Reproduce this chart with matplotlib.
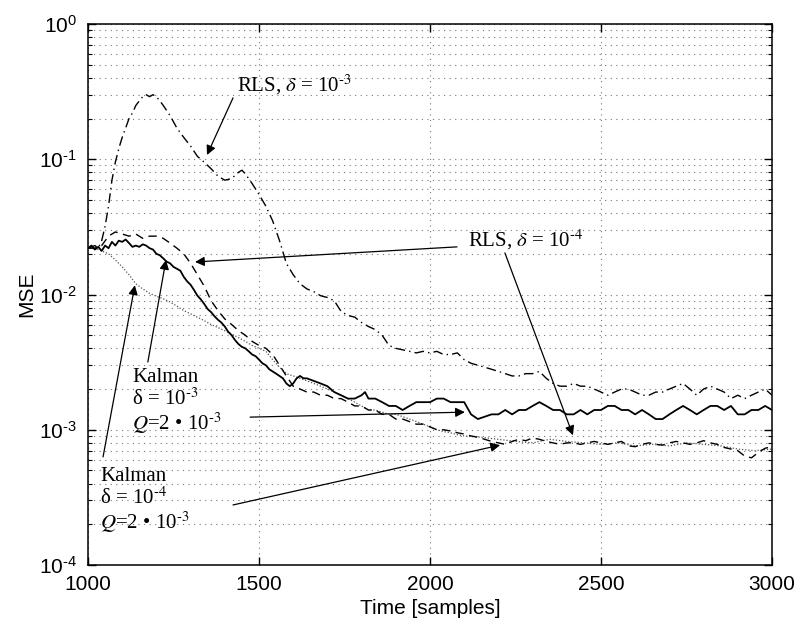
import matplotlib.pyplot as plt
import numpy as np

plt.rcParams['font.family'] = ['Liberation Sans', 'DejaVu Sans']
plt.rcParams['mathtext.fontset'] = 'custom'
plt.rcParams['mathtext.rm'] = 'Liberation Sans'
plt.rcParams['mathtext.it'] = 'Liberation Sans:italic'

# Kalman, delta = 1e-3, Q = 2e-3 (solid)
kal3_t = [1000, 1010, 1020, 1030, 1040, 1050, 1060, 1070, 1080, 1090, 1100, 1110, 1120, 1130,
          1140, 1150, 1160, 1170, 1180, 1190, 1200, 1210, 1220, 1230, 1240, 1250, 1260, 1270,
          1280, 1290, 1300, 1310, 1320, 1330, 1340, 1350, 1360, 1370, 1380, 1390, 1400, 1410,
          1420, 1430, 1440, 1450, 1460, 1470, 1480, 1490, 1500, 1510, 1520, 1530, 1540, 1550,
          1560, 1570, 1580, 1590, 1600, 1610, 1620, 1630, 1640, 1660, 1680, 1700, 1720, 1740,
          1760, 1780, 1800, 1810, 1820, 1840, 1860, 1880, 1900, 1920, 1940, 1960, 1980, 2000,
          2020, 2040, 2060, 2080, 2100, 2120, 2140, 2160, 2180, 2200, 2220, 2240, 2260, 2280,
          2300, 2320, 2340, 2360, 2380, 2400, 2420, 2440, 2460, 2480, 2500, 2520, 2540, 2560,
          2580, 2600, 2620, 2640, 2660, 2680, 2700, 2720, 2740, 2760, 2780, 2800, 2820, 2840,
          2860, 2880, 2900, 2920, 2940, 2960, 2980, 3000]
kal3_v = [0.022, 0.023, 0.0215, 0.0225, 0.021, 0.023, 0.022, 0.0245, 0.023, 0.025, 0.0245, 0.0255,
          0.024, 0.0225, 0.023, 0.0225, 0.0235, 0.023, 0.022, 0.0215, 0.02, 0.0195, 0.0185, 0.0175,
          0.017, 0.016, 0.0155, 0.015, 0.0135, 0.0125, 0.0118, 0.0108, 0.0098, 0.0092, 0.0085,
          0.0078, 0.0074, 0.0069, 0.0065, 0.0062, 0.0058, 0.0053, 0.005, 0.0046, 0.0043, 0.0041,
          0.004, 0.0038, 0.0036, 0.0035, 0.0033, 0.0031, 0.003, 0.0028, 0.0027, 0.0026, 0.0025,
          0.0024, 0.0022, 0.0021, 0.0022, 0.0024, 0.0025, 0.0024, 0.0024, 0.0023, 0.0022, 0.0021,
          0.0019, 0.0018, 0.0017, 0.0017, 0.0018, 0.0019, 0.0017, 0.0017, 0.0016, 0.0015, 0.0015,
          0.0014, 0.0015, 0.0016, 0.0016, 0.0016, 0.0017, 0.0017, 0.0016, 0.0016, 0.0016, 0.0013,
          0.0012, 0.00125, 0.0013, 0.0013, 0.0014, 0.0013, 0.0014, 0.0014, 0.0015, 0.0016, 0.0015,
          0.0014, 0.0014, 0.0013, 0.0013, 0.0014, 0.0013, 0.0014, 0.0014, 0.0015, 0.0015, 0.0014,
          0.0014, 0.0013, 0.0014, 0.0013, 0.0012, 0.0012, 0.0013, 0.0014, 0.0015, 0.0014, 0.0013,
          0.0014, 0.0015, 0.0015, 0.0014, 0.0015, 0.0013, 0.0013, 0.0014, 0.0014, 0.0015, 0.0014]

# RLS, delta = 1e-3 (dash-dot)
rls3_t = [1000, 1020, 1030, 1040, 1050, 1060, 1070, 1080, 1090, 1100, 1110, 1120, 1130, 1140,
          1150, 1160, 1170, 1180, 1190, 1200, 1210, 1220, 1240, 1260, 1280, 1300, 1320, 1340,
          1360, 1380, 1400, 1420, 1440, 1450, 1460, 1480, 1500, 1520, 1540, 1560, 1580, 1600,
          1620, 1640, 1660, 1680, 1700, 1720, 1740, 1760, 1780, 1800, 1820, 1840, 1860, 1880,
          1900, 1920, 1940, 1960, 1980, 2000, 2020, 2040, 2060, 2080, 2100, 2120, 2140, 2160,
          2180, 2200, 2220, 2240, 2260, 2280, 2300, 2320, 2340, 2360, 2380, 2400, 2420, 2440,
          2460, 2480, 2500, 2520, 2540, 2560, 2580, 2600, 2620, 2640, 2660, 2680, 2700, 2720,
          2740, 2760, 2780, 2800, 2820, 2840, 2860, 2880, 2900, 2920, 2940, 2960, 2980, 3000]
rls3_v = [0.022, 0.023, 0.022, 0.025, 0.032, 0.045, 0.07, 0.095, 0.12, 0.145, 0.17, 0.2, 0.22,
          0.25, 0.27, 0.29, 0.3, 0.29, 0.3, 0.29, 0.27, 0.25, 0.21, 0.17, 0.145, 0.125, 0.105,
          0.095, 0.085, 0.075, 0.07, 0.072, 0.08, 0.083, 0.078, 0.066, 0.055, 0.045, 0.035, 0.025,
          0.017, 0.014, 0.012, 0.011, 0.0105, 0.0098, 0.0095, 0.009, 0.0075, 0.007, 0.0068,
          0.0062, 0.0058, 0.0055, 0.005, 0.0042, 0.004, 0.0039, 0.0038, 0.0037, 0.0038, 0.0037,
          0.0038, 0.0036, 0.0036, 0.0037, 0.0033, 0.0031, 0.003, 0.0029, 0.0028, 0.0027, 0.0026,
          0.0025, 0.0025, 0.0026, 0.0026, 0.0027, 0.0024, 0.0022, 0.0021, 0.0021, 0.0022, 0.0021,
          0.0021, 0.002, 0.0019, 0.0018, 0.0019, 0.002, 0.002, 0.0019, 0.0018, 0.0018, 0.0019,
          0.0019, 0.002, 0.0021, 0.0022, 0.002, 0.0018, 0.002, 0.0021, 0.002, 0.0019, 0.0017,
          0.0018, 0.0017, 0.0018, 0.0019, 0.002, 0.0018]

# RLS, delta = 1e-4 (dashed)
rls4_t = [1000, 1020, 1040, 1060, 1080, 1100, 1120, 1140, 1160, 1180, 1200, 1220, 1240, 1260,
          1280, 1300, 1320, 1340, 1360, 1380, 1400, 1420, 1440, 1460, 1480, 1500, 1520, 1540,
          1560, 1580, 1600, 1620, 1640, 1660, 1680, 1700, 1720, 1740, 1760, 1780, 1800, 1820,
          1840, 1860, 1880, 1900, 1920, 1940, 1960, 1980, 2000, 2020, 2040, 2060, 2080, 2100,
          2120, 2140, 2160, 2180, 2200, 2220, 2240, 2260, 2280, 2300, 2320, 2340, 2360, 2380,
          2400, 2420, 2440, 2460, 2480, 2500, 2520, 2540, 2560, 2580, 2600, 2620, 2640, 2660,
          2680, 2700, 2720, 2740, 2760, 2780, 2800, 2820, 2840, 2860, 2880, 2900, 2920, 2940,
          2960, 2980, 3000]
rls4_v = [0.022, 0.022, 0.023, 0.027, 0.029, 0.028, 0.027, 0.028, 0.026, 0.027, 0.027, 0.026,
          0.024, 0.022, 0.02, 0.017, 0.014, 0.0115, 0.009, 0.0076, 0.0066, 0.006, 0.0054, 0.005,
          0.0045, 0.0042, 0.004, 0.0036, 0.003, 0.0025, 0.0021, 0.002, 0.0019, 0.0019, 0.0018,
          0.0018, 0.0017, 0.0017, 0.0016, 0.0015, 0.0015, 0.0014, 0.0014, 0.0013, 0.0013, 0.0012,
          0.0012, 0.00115, 0.0011, 0.0011, 0.00105, 0.001, 0.001, 0.00098, 0.00095, 0.00093,
          0.0009, 0.00088, 0.00085, 0.00082, 0.0008, 0.00078, 0.00082, 0.00085, 0.00083, 0.00087,
          0.00085, 0.00082, 0.0008, 0.00078, 0.0008, 0.0008, 0.00078, 0.0008, 0.00082, 0.0008,
          0.00078, 0.0008, 0.00082, 0.00076, 0.00075, 0.00078, 0.0008, 0.00078, 0.00077, 0.0008,
          0.00082, 0.0008, 0.00078, 0.0008, 0.00083, 0.0008, 0.00078, 0.00074, 0.00072, 0.0007,
          0.00064, 0.00062, 0.00068, 0.00073, 0.00075]

# Kalman, delta = 1e-4, Q = 2e-3 (dotted)
kal4_t = [1000, 1020, 1040, 1060, 1080, 1100, 1120, 1140, 1160, 1180, 1200, 1220, 1240, 1260,
          1280, 1300, 1320, 1340, 1360, 1380, 1400, 1420, 1440, 1460, 1480, 1500, 1520, 1540,
          1560, 1580, 1600, 1620, 1640, 1660, 1680, 1700, 1720, 1740, 1760, 1780, 1800, 1820,
          1840, 1860, 1880, 1900, 1920, 1940, 1960, 1980, 2000, 2020, 2040, 2060, 2080, 2100,
          2150, 2200, 2250, 2300, 2350, 2400, 2450, 2500, 2550, 2600, 2650, 2700, 2750, 2800,
          2850, 2900, 2950, 3000]
kal4_v = [0.022, 0.022, 0.021, 0.02, 0.018, 0.016, 0.014, 0.012, 0.011, 0.0102, 0.0097, 0.0093,
          0.0088, 0.0082, 0.0076, 0.0072, 0.0068, 0.0064, 0.006, 0.0057, 0.0054, 0.0051, 0.0048,
          0.0045, 0.0042, 0.004, 0.0038, 0.0033, 0.0029, 0.0026, 0.0025, 0.0024, 0.0023, 0.0022,
          0.0021, 0.002, 0.0019, 0.0018, 0.0017, 0.0016, 0.0015, 0.0014, 0.0014, 0.00135, 0.0013,
          0.0013, 0.00125, 0.0012, 0.00115, 0.0011, 0.00105, 0.001, 0.00097, 0.00095, 0.00092,
          0.0009, 0.00088, 0.00085, 0.00082, 0.0008, 0.00085, 0.00082, 0.0008, 0.00078, 0.0008,
          0.00076, 0.00078, 0.00076, 0.0008, 0.00078, 0.00076, 0.00072, 0.0007, 0.00072]

x_ticks = [1000, 1500, 2000, 2500, 3000]
y_exps = [-4, -3, -2, -1, 0]

HY = '\u2010'  # short hyphen, as in the original superscripts

def sup(e):
    s = str(e).replace('-', HY)
    return '10$^{%s}$' % s

fig = plt.figure(figsize=(8, 6.26), dpi=100)
ax = fig.add_axes([0.11, 0.0974, 0.855, 0.8643])

ax.plot(kal4_t, kal4_v, color='#555555', ls=(0, (1, 1.5)), lw=0.9)
ax.plot(rls4_t, rls4_v, color='black', ls=(0, (6, 4)), lw=1.0)
ax.plot(rls3_t, rls3_v, color='black', ls=(0, (7, 3, 1, 3)), lw=1.0)
ax.plot(kal3_t, kal3_v, color='black', ls='-', lw=1.3)

ax.set_yscale('log')
ax.set_xlim(1000, 3000)
ax.set_ylim(1e-4, 1)
ax.set_xticks(x_ticks)
ax.set_xticklabels([str(v) for v in x_ticks])
ax.set_yticks([10.0 ** e for e in y_exps])
ax.set_yticklabels([sup(e) for e in y_exps])
ax.tick_params(which='both', direction='in', top=True, right=True, labelsize=15)
ax.tick_params(which='major', length=6, width=1)
ax.tick_params(which='minor', length=3, width=0.8)
ax.tick_params(axis='y', pad=8)
ax.tick_params(axis='x', pad=7)
ax.grid(True, which='major', ls=(0, (1, 4)), color='#777777', lw=0.8)
ax.grid(True, which='minor', axis='y', ls=(0, (1, 4)), color='#777777', lw=0.8)
for s in ax.spines.values():
    s.set_linewidth(1.1)

ax.set_xlabel('Time [samples]', fontsize=15, labelpad=4)
ax.set_ylabel('MSE', fontsize=15, labelpad=2)

serif = ['Liberation Serif', 'DejaVu Serif']
arw = dict(arrowstyle='-|>', color='black', lw=0.9, mutation_scale=14, shrinkA=0, shrinkB=0)

def arrow(tail, tip):
    ax.annotate('', xy=tip, xytext=tail, arrowprops=arw)

ax.text(1605, 0.354, r'RLS, $\delta$ = ' + sup(-3), family=serif, fontsize=15,
        ha='center', va='center', math_fontfamily='stix')
arrow((1424, 0.284), (1348, 0.1075))

ax.text(2281, 0.0253, r'RLS, $\delta$ = ' + sup(-4), family=serif, fontsize=15,
        ha='center', va='center', math_fontfamily='stix')
arrow((2079, 0.0225), (1313, 0.0174))
arrow((2219, 0.0203), (2418, 0.00091))

ax.text(1129, 0.00285, 'Kalman\nδ = ' + sup(-3) + '\n$Q$=2 • ' + sup(-3), family=serif,
        fontsize=15, ha='left', va='top', linespacing=1.05, math_fontfamily='stix')
arrow((1175, 0.00317), (1228, 0.018))
arrow((1474, 0.00124), (2102, 0.00135))

ax.text(1035, 0.00053, 'Kalman\nδ = ' + sup(-4) + '\n$Q$=2 • ' + sup(-3), family=serif,
        fontsize=15, ha='left', va='top', linespacing=1.05, math_fontfamily='stix')
arrow((1044, 0.00063), (1137, 0.0117))
arrow((1424, 0.000278), (2205, 0.00077))

fig.savefig('out.png', dpi=100)
